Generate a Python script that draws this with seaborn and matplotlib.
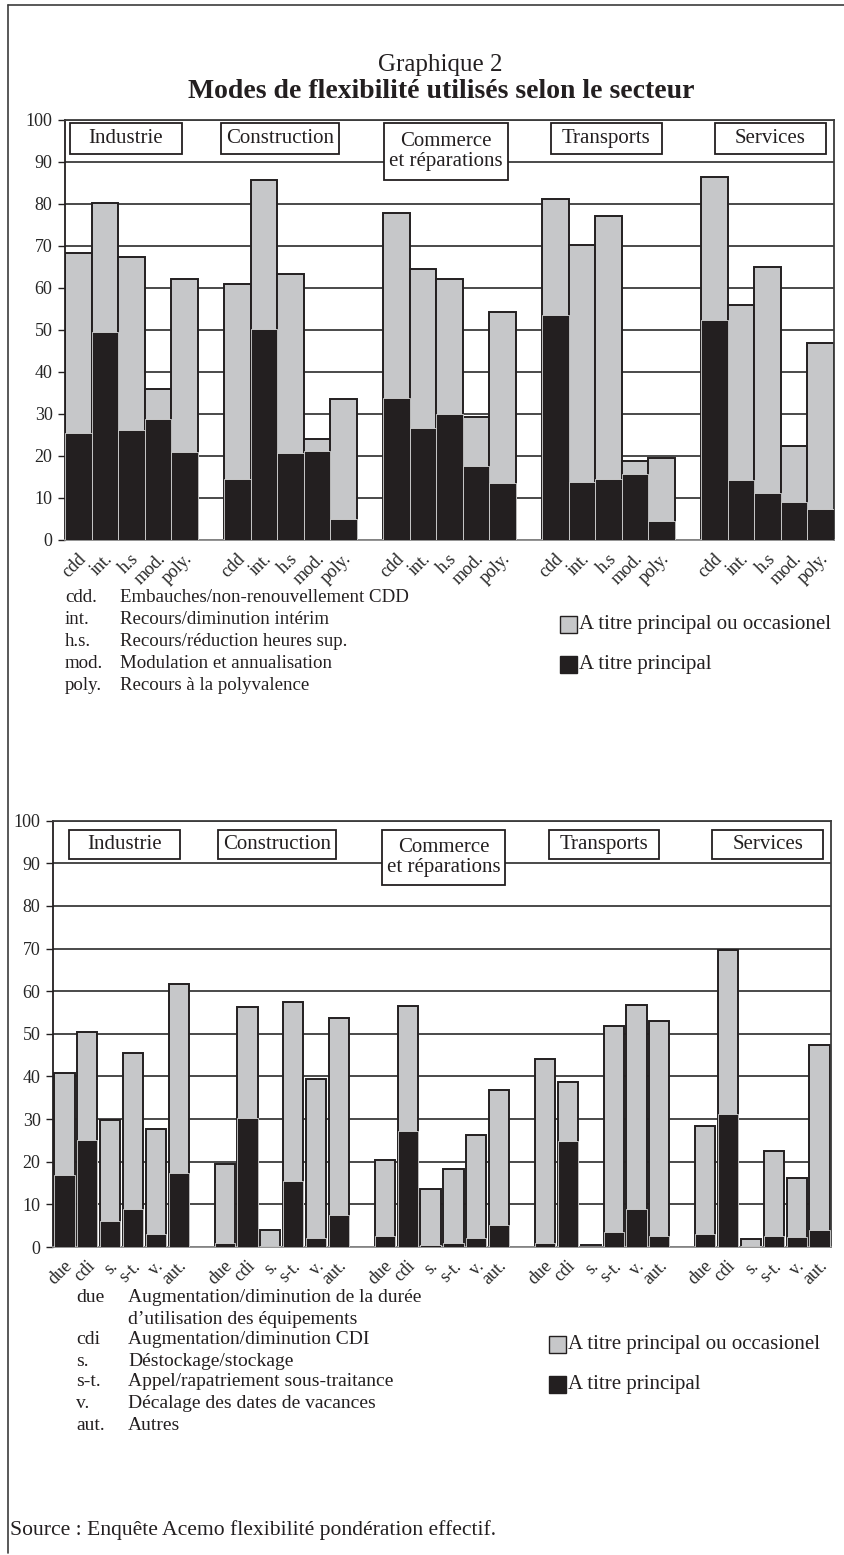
import numpy as np
import pandas as pd
import matplotlib
matplotlib.use("Agg")
import matplotlib.pyplot as plt
import seaborn as sns
from matplotlib.patches import Rectangle
from matplotlib.lines import Line2D
import matplotlib.transforms as mtransforms

# ---------------- data ----------------
sectors = ["Industrie", "Construction", "Commerce\net réparations", "Transports", "Services"]

modes_top = ["cdd", "int.", "h.s", "mod.", "poly."]
top_total = [
    [68.4, 80.3, 67.3, 35.8, 62.0],
    [60.8, 85.8, 63.2, 23.9, 33.6],
    [77.9, 64.6, 62.2, 29.1, 54.3],
    [81.2, 70.1, 77.1, 18.6, 19.5],
    [86.4, 55.8, 65.0, 22.4, 46.9],
]
top_princ = [
    [25.4, 49.5, 26.1, 28.8, 20.8],
    [14.5, 50.1, 20.6, 21.1, 5.0],
    [33.8, 26.6, 30.0, 17.5, 13.5],
    [53.5, 13.8, 14.4, 15.6, 4.5],
    [52.3, 14.2, 11.1, 8.9, 7.3],
]

modes_bot = ["due", "cdi", "s.", "s-t.", "v.", "aut."]
bot_total = [
    [40.9, 50.4, 29.7, 45.4, 27.6, 61.8],
    [19.4, 56.4, 4.1, 57.5, 39.3, 53.8],
    [20.3, 56.6, 13.5, 18.4, 26.2, 36.8],
    [44.0, 38.6, 0.4, 51.9, 56.8, 52.9],
    [28.5, 69.6, 1.9, 22.6, 16.3, 47.5],
]
bot_princ = [
    [17.0, 25.1, 6.2, 8.9, 3.0, 17.3],
    [1.0, 30.3, 0.3, 15.5, 2.0, 7.4],
    [2.6, 27.2, 0.5, 1.0, 2.0, 5.2],
    [0.9, 24.9, 0.0, 3.6, 8.9, 2.6],
    [3.0, 31.1, 0.3, 2.6, 2.4, 4.1],
]

abbr_top = ["cdd.", "int.", "h.s.", "mod.", "poly."]
desc_top = ["Embauches/non-renouvellement CDD",
            "Recours/diminution intérim",
            "Recours/réduction heures sup.",
            "Modulation et annualisation",
            "Recours à la polyvalence"]
abbr_bot = ["due", "", "cdi", "s.", "s-t.", "v.", "aut."]
desc_bot = ["Augmentation/diminution de la durée",
            "d’utilisation des équipements",
            "Augmentation/diminution CDI",
            "Déstockage/stockage",
            "Appel/rapatriement sous-traitance",
            "Décalage des dates de vacances",
            "Autres"]
legend_labels = ["A titre principal ou occasionel", "A titre principal"]

# ---------------- style ----------------
GRAY = "#c6c7c9"
BLACK = "#231f20"
EDGE = "#231f20"
GRID = "#3c3c3c"
FONT = "Liberation Serif"

sns.set_theme(style="white")
plt.rcParams["font.family"] = [FONT, "DejaVu Serif"]
plt.rcParams["text.color"] = BLACK

W, H = 845, 1555
fig = plt.figure(figsize=(W / 100, H / 100), dpi=100)


def fx(px):
    return px / W


def fy(py):
    return 1 - py / H


def build(modes, totals, princs):
    rows, order, labels = [], [], []
    for s, (tt, pp) in enumerate(zip(totals, princs)):
        if s > 0:
            order.append(f"gap{s}")
            labels.append("")
        for m, t, p in zip(modes, tt, pp):
            key = f"{s}|{m}"
            rows.append({"key": key, "total": t, "princ": p})
            order.append(key)
            labels.append(m)
    return pd.DataFrame(rows), order, labels


def draw_panel(rect, modes, totals, princs, width, boxes, tick_dx):
    ax = fig.add_axes(rect)
    df, order, labels = build(modes, totals, princs)
    ax.set_axisbelow(True)
    ax.yaxis.grid(True, color=GRID, lw=1.3)
    sns.barplot(data=df, x="key", y="total", order=order, color=GRAY,
                width=width, saturation=1, edgecolor=EDGE, linewidth=1.4,
                errorbar=None, ax=ax, zorder=2)
    sns.barplot(data=df, x="key", y="princ", order=order, color=BLACK,
                width=width, saturation=1, edgecolor="#d6d6d6", linewidth=0.6,
                errorbar=None, ax=ax, zorder=3)
    ax.set_ylim(0, 100)
    ax.set_xlim(-0.5, len(order) - 0.5)
    ax.set_yticks(np.arange(0, 101, 10))
    ax.set_xlabel("")
    ax.set_ylabel("")
    ax.set_xticks(range(len(order)))
    ax.set_xticklabels(labels, rotation=45, ha="right", va="center",
                       rotation_mode="anchor", fontsize=13)
    ax.tick_params(axis="x", length=0, pad=12)
    ax.tick_params(axis="y", length=5, width=1, color=EDGE, pad=4,
                   labelsize=13, left=True, direction="out")
    off = mtransforms.ScaledTranslation(tick_dx / 100, 0, fig.dpi_scale_trans)
    for lab in ax.get_xticklabels():
        lab.set_transform(lab.get_transform() + off)
    for side, sp in ax.spines.items():
        sp.set_visible(True)
        sp.set_color(GRID)
        sp.set_linewidth(1.3)
    ax.spines["bottom"].set_color("#8a8a8a")
    ax.spines["left"].set_color(EDGE)
    # sector boxes
    for name, (cx, w, y0, y1) in zip(sectors, boxes):
        ax.add_patch(Rectangle((cx - w / 2, y0), w, y1 - y0, facecolor="white",
                               edgecolor=EDGE, lw=1.3, zorder=5))
        ax.text(cx, (y0 + y1) / 2, name, ha="center", va="center",
                fontsize=15, zorder=6, linespacing=1.05)
    return ax


# top panel: x 65..834, y 120..539.5
top_boxes = [(1.80, 4.19, 92.0, 99.2), (7.61, 4.42, 92.0, 99.2),
             (13.86, 4.68, 85.8, 99.2), (19.92, 4.19, 92.0, 99.2),
             (26.1, 4.19, 92.0, 99.2)]
draw_panel([fx(65), fy(539.5), fx(834 - 65), (539.5 - 120) / H],
           modes_top, top_total, top_princ, 1.0, top_boxes, 5)

# bottom panel: x 53..831, y 820.7..1247
bot_boxes = [(2.62, 4.85, 90.9, 97.8), (9.28, 5.15, 90.9, 97.8),
             (16.57, 5.41, 85.0, 97.8), (23.58, 4.85, 90.9, 97.8),
             (30.74, 4.85, 90.9, 97.8)]
draw_panel([fx(53), fy(1247), fx(831 - 53), (1247 - 820.7) / H],
           modes_bot, bot_total, bot_princ, 0.88, bot_boxes, 5)

# ---------------- titles ----------------
fig.text(fx(440), fy(65), "Graphique 2", ha="center", va="center", fontsize=18)
fig.text(fx(441), fy(92), "Modes de flexibilité utilisés selon le secteur",
         ha="center", va="center", fontsize=20, fontweight="bold")

# ---------------- description blocks ----------------
for i, (a, d) in enumerate(zip(abbr_top, desc_top)):
    y = 598 + 22 * i
    fig.text(fx(65), fy(y), a, ha="left", va="center", fontsize=13.6)
    fig.text(fx(120), fy(y), d, ha="left", va="center", fontsize=13.6)

ys_bot = [1298, 1319, 1339, 1361, 1382, 1404, 1425]
for a, d, y in zip(abbr_bot, desc_bot, ys_bot):
    fig.text(fx(76), fy(y), a, ha="left", va="center", fontsize=14)
    fig.text(fx(128), fy(y), d, ha="left", va="center", fontsize=14)


def legend(x0, ys):
    for lab, col, y in zip(legend_labels, [GRAY, BLACK], ys):
        fig.add_artist(Rectangle((fx(x0), fy(y + 8.5)), fx(17), 17 / H,
                                 transform=fig.transFigure, facecolor=col,
                                 edgecolor=EDGE, lw=1.0))
        fig.text(fx(x0 + 19), fy(y), lab, ha="left", va="center", fontsize=15)


legend(560, [624, 664])
legend(549, [1344, 1384])

fig.text(fx(10), fy(1530), "Source : Enquête Acemo flexibilité pondération effectif.",
         ha="left", va="center", fontsize=15.6)

# outer frame
fig.add_artist(Line2D([fx(8), fx(8)], [fy(5), fy(1553)], transform=fig.transFigure,
                      color=GRID, lw=1.2))
fig.add_artist(Line2D([fx(8), fx(845)], [fy(5), fy(5)], transform=fig.transFigure,
                      color=GRID, lw=1.2))

fig.savefig("out.png", dpi=100)
